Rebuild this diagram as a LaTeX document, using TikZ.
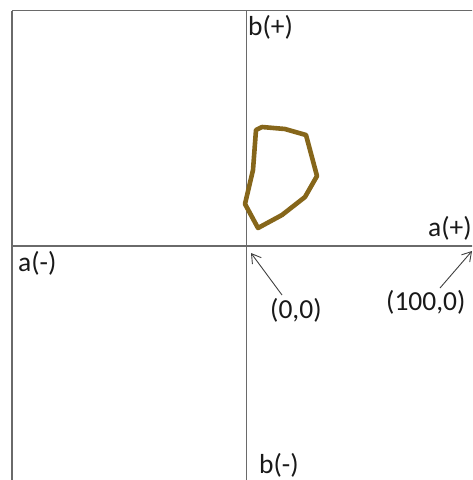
\documentclass[tikz,border=0pt]{standalone}
\usepackage{fontspec}
\setmainfont{Carlito}
\usetikzlibrary{arrows.meta}
\definecolor{gridgray}{HTML}{6A6A6A}
\definecolor{olive}{HTML}{86661A}
\begin{document}
\begin{tikzpicture}[x=1pt,y=-1pt,
  axisline/.style={draw=gridgray,line width=1.4pt},
  lbl/.style={inner sep=0pt,anchor=base west,font=\fontsize{27.5}{32}\selectfont,text=black!90},
  pointer/.style={draw=black!75,line width=0.9pt,-{Straight Barb[length=9pt,width=11pt]}},
  region/.style={draw=olive,line width=4.6pt,line join=round}]
\useasboundingbox (0,0) rectangle (472,480);
\clip (0,0) rectangle (472,480);
% frame and axes
\draw[axisline] (12,10.5) -- (490,10.5);
\draw[axisline] (12,10.5) -- (12,490);
\draw[axisline] (246.5,10.5) -- (246.5,490);
\draw[axisline] (12,246) -- (490,246);
% region
\draw[region] (256,130) -- (262,127) -- (285,129) -- (306,135) -- (317,176)
  -- (305,197) -- (282,215) -- (258,228) -- (245,204) -- (253,170) -- cycle;
% labels
\node[lbl] (bplus) at (248,35) {b(+)};
\node[lbl] (aplus) at (428,236) {a(+)};
\node[lbl] (aminus) at (18,271) {a(-)};
\node[lbl] (zero) at (270,318) {(0,0)};
\node[lbl] (hundred) at (386,310) {(100,0)};
\node[lbl] (bminus) at (259,473) {b(-)};
% pointers
\coordinate (origin) at (251,253);
\coordinate (ptA) at (472,251);
\coordinate (tailZero) at (282,295);
\coordinate (tailHundred) at (440,288);
\draw[pointer] (tailZero) -- (origin);
\draw[pointer] (tailHundred) -- (ptA);
\end{tikzpicture}
\end{document}
